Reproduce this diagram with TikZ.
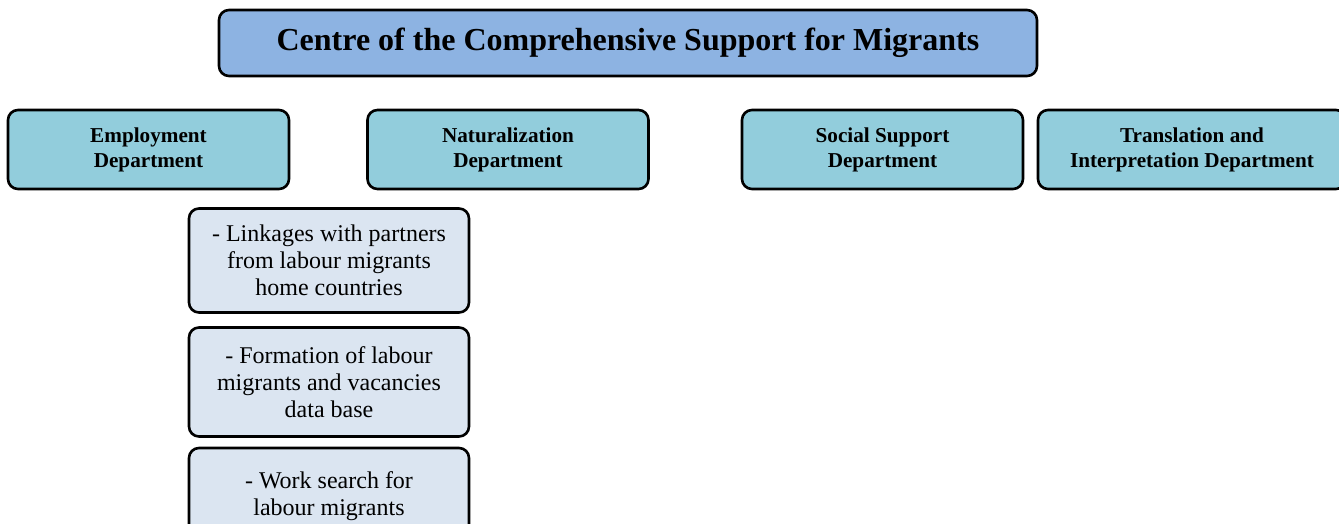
\documentclass[tikz,border=0pt]{standalone}
\usepackage{fontspec}
\setmainfont{Liberation Serif}
\definecolor{headfill}{HTML}{8DB3E2}
\definecolor{deptfill}{HTML}{92CDDC}
\definecolor{taskfill}{HTML}{DBE5F1}
\tikzset{
  basebox/.style={draw=black, line width=2.6pt, rounded corners=10pt, align=center, inner sep=0pt},
  headbox/.style={basebox, fill=headfill, minimum width=818pt, minimum height=66pt, font=\fontsize{32}{36}\selectfont\bfseries},
  deptbox/.style={basebox, fill=deptfill, minimum width=281pt, minimum height=79pt, font=\fontsize{21.2}{25}\selectfont\bfseries},
  taskbox/.style={basebox, fill=taskfill, minimum width=280pt, font=\fontsize{24}{27}\selectfont}
}
\begin{document}
\begin{tikzpicture}[x=1pt,y=-1pt]
  \useasboundingbox (0,0) rectangle (1339,524);
  \clip (0,0) rectangle (1339,524);
  % head office
  \node[headbox] (centre) at (628,43) {Centre of the Comprehensive Support for Migrants};
  % departments
  \node[deptbox] (employ) at (148.5,149.5) {Employment\\Department};
  \node[deptbox] (natur) at (508,149.5) {Naturalization\\Department};
  \node[deptbox] (social) at (882.5,149.5) {Social Support\\Department};
  \node[deptbox, minimum width=308pt] (transl) at (1192,149.5) {Translation and\\Interpretation Department};
  % tasks of the employment department
  \node[taskbox, minimum height=104pt] (task1) at (329,260.5) {- Linkages with partners\\from labour migrants\\home countries};
  \node[taskbox, minimum height=109pt] (task2) at (329,382) {- Formation of labour\\migrants and vacancies\\data base};
  \node[taskbox, minimum height=96pt] (task3) at (329,496) {- Work search for\\labour migrants};
\end{tikzpicture}
\end{document}
